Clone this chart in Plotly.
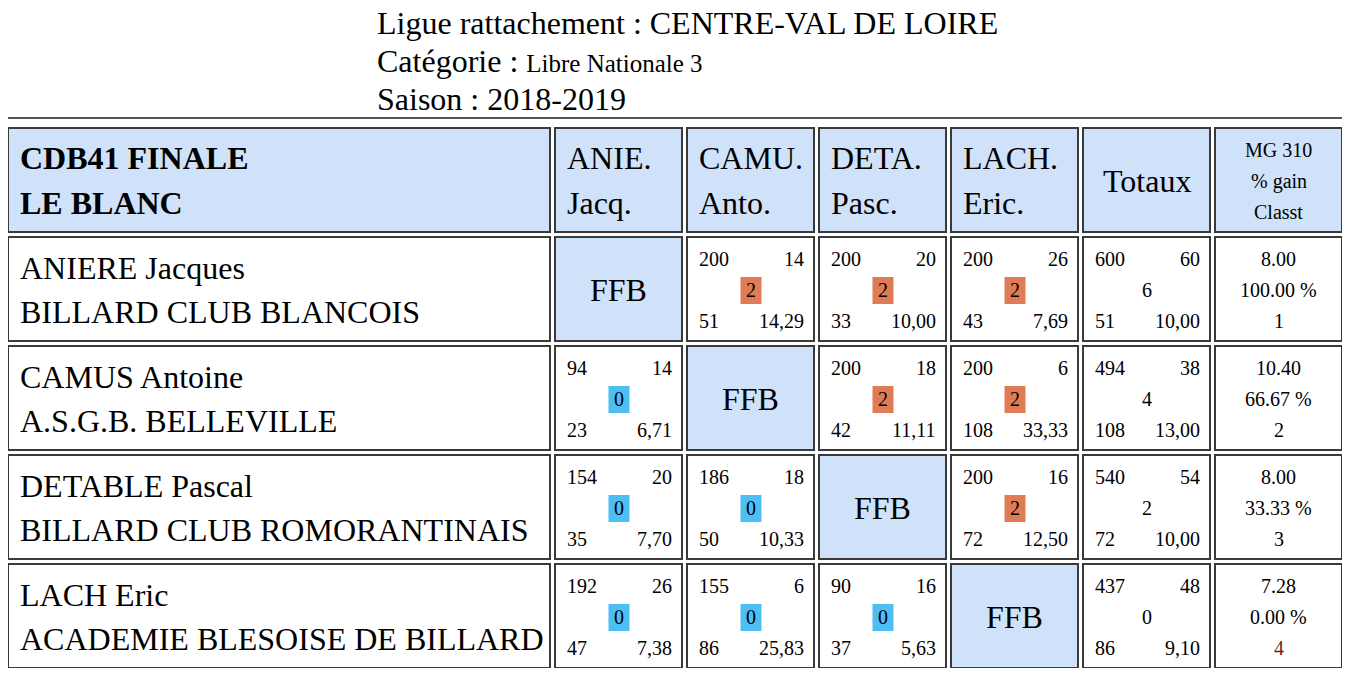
import plotly.graph_objects as go

title_lines = ["Ligue rattachement : CENTRE-VAL DE LOIRE", "Catégorie : <span style='font-size:25px'>Libre Nationale 3</span>", "Saison : 2018-2019"]
header_title = ["CDB41 FINALE", "LE BLANC"]
col_heads = [["ANIE.", "Jacq."], ["CAMU.", "Anto."], ["DETA.", "Pasc."], ["LACH.", "Eric."]]
players = ["ANIERE Jacques", "CAMUS Antoine", "DETABLE Pascal", "LACH Eric"]
clubs = ["BILLARD CLUB BLANCOIS", "A.S.G.B. BELLEVILLE", "BILLARD CLUB ROMORANTINAIS", "ACADEMIE BLESOISE DE BILLARD"]
# match cells: (points, innings, match pts, high run, average); None = diagonal
matches = [
    [None, (200, 14, 2, 51, "14,29"), (200, 20, 2, 33, "10,00"), (200, 26, 2, 43, "7,69")],
    [(94, 14, 0, 23, "6,71"), None, (200, 18, 2, 42, "11,11"), (200, 6, 2, 108, "33,33")],
    [(154, 20, 0, 35, "7,70"), (186, 18, 0, 50, "10,33"), None, (200, 16, 2, 72, "12,50")],
    [(192, 26, 0, 47, "7,38"), (155, 6, 0, 86, "25,83"), (90, 16, 0, 37, "5,63"), None],
]
totals = [(600, 60, 6, 51, "10,00"), (494, 38, 4, 108, "13,00"), (540, 54, 2, 72, "10,00"), (437, 48, 0, 86, "9,10")]
mg = ["8.00", "10.40", "8.00", "7.28"]
gain = ["100.00 %", "66.67 %", "33.33 %", "0.00 %"]
rank = ["1", "2", "3", "4"]

FONT = "Liberation Serif"
HDR = "#cfe2f9"
ORANGE = "#df7c55"
BLUE = "#4dbff5"
BIG = 32
SM = 20

cols = [(8, 550), (555, 682), (687, 814), (819, 946), (951, 1078), (1083, 1210), (1215, 1342)]
rows = [(128, 232), (237, 341), (346, 450), (455, 559), (564, 668)]

fig = go.Figure()
shapes, ann = [], []

def txt(x, y, t, size, xa="left", color="black"):
    ann.append(dict(x=x, y=y, text=t, showarrow=False, xanchor=xa, yanchor="middle",
                    font=dict(family=FONT, size=size, color=color)))

def cell(c, r, fill="white"):
    x0, x1 = cols[c]; y0, y1 = rows[r]
    shapes.append(dict(type="rect", x0=x0, x1=x1, y0=y0, y1=y1, fillcolor=fill,
                       line=dict(color="#3a3a3a", width=2)))

shapes.append(dict(type="rect", x0=3, x1=1347, y0=118, y1=673, line=dict(color="#555", width=2)))

for i, t in enumerate(title_lines):
    txt(375, 23 + 38 * i, t, BIG)

# header
for c in range(7):
    cell(c, 0, HDR)
txt(18, 158, "<b>" + header_title[0] + "</b>", BIG)
txt(18, 203, "<b>" + header_title[1] + "</b>", BIG)
for j, h in enumerate(col_heads):
    x0 = cols[j + 1][0]
    txt(x0 + 10, 158, h[0], BIG)
    txt(x0 + 10, 203, h[1], BIG)
txt((cols[5][0] + cols[5][1]) / 2, 181, "Totaux", BIG, "center")
cx6 = (cols[6][0] + cols[6][1]) / 2
txt(cx6, 150, "MG 310", SM, "center")
txt(cx6, 181, "% gain", SM, "center")
txt(cx6, 212, "Classt", SM, "center")

def stats(c, r, v, box):
    x0, x1 = cols[c]; y0, _ = rows[r]
    xm = (x0 + x1) / 2
    txt(x0 + 10, y0 + 22, str(v[0]), SM)
    txt(x1 - 8, y0 + 22, str(v[1]), SM, "right")
    if box:
        col = ORANGE if v[2] == 2 else BLUE
        shapes.append(dict(type="rect", x0=xm - 10, x1=xm + 11, y0=y0 + 40, y1=y0 + 67,
                           fillcolor=col, line=dict(width=0)))
    txt(xm, y0 + 53, str(v[2]), SM, "center")
    txt(x0 + 10, y0 + 84, str(v[3]), SM)
    txt(x1 - 8, y0 + 84, str(v[4]), SM, "right")

for i in range(4):
    r = i + 1
    y0 = rows[r][0]
    cell(0, r)
    txt(18, y0 + 31, players[i], BIG)
    txt(18, y0 + 75, clubs[i], BIG)
    for j in range(4):
        m = matches[i][j]
        if m is None:
            cell(j + 1, r, HDR)
            txt((cols[j + 1][0] + cols[j + 1][1]) / 2, y0 + 53, "FFB", BIG, "center")
        else:
            cell(j + 1, r)
            stats(j + 1, r, m, True)
    cell(5, r)
    stats(5, r, totals[i], False)
    cell(6, r)
    txt(cx6, y0 + 22, mg[i], SM, "center")
    txt(cx6, y0 + 53, gain[i], SM, "center")
    txt(cx6, y0 + 84, rank[i], SM, "center", "#7a1a1a" if i == 3 else "black")

# page body has an 8px margin: map plot area to page pixels 8..1342 / 8..668
fig.update_layout(width=1334, height=660, margin=dict(l=0, r=0, t=0, b=0),
                  plot_bgcolor="white", paper_bgcolor="white", shapes=shapes, annotations=ann,
                  xaxis=dict(range=[8, 1342], visible=False, fixedrange=True),
                  yaxis=dict(range=[668, 8], visible=False, fixedrange=True), showlegend=False)
fig.write_html("out.html", config={"displayModeBar": False})
